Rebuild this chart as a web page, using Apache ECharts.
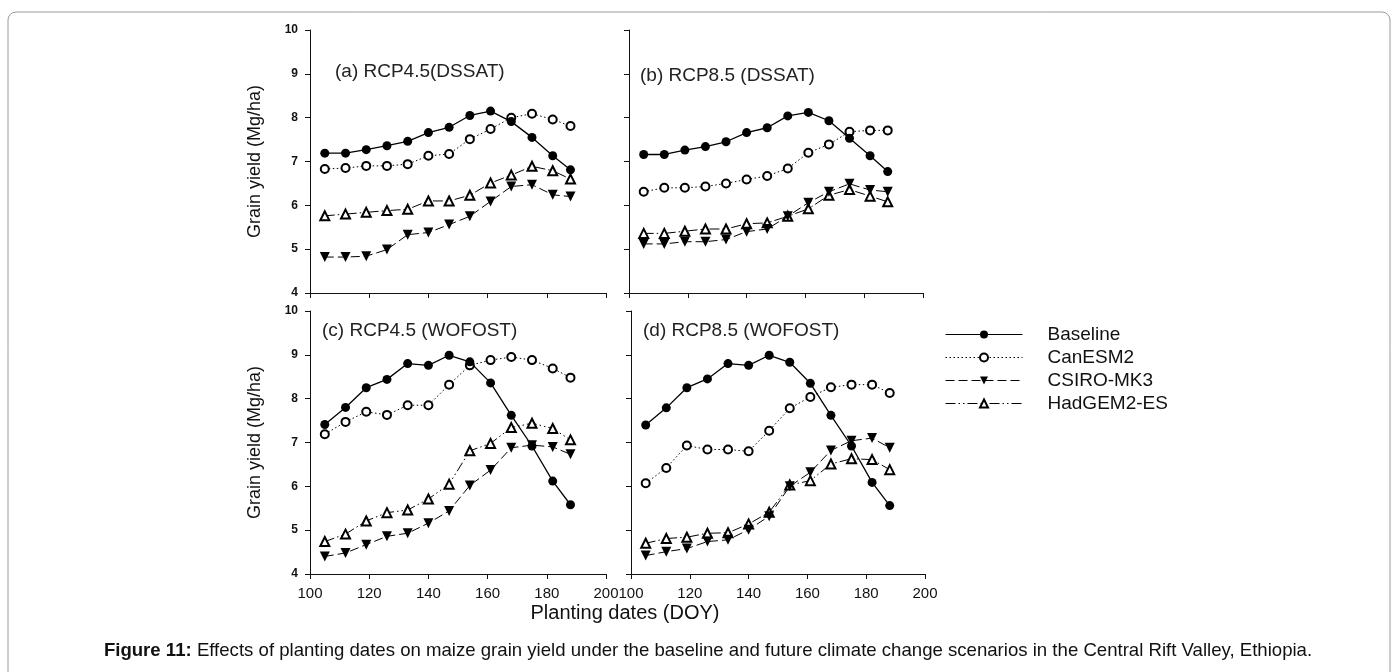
<!DOCTYPE html>
<html>
<head>
<meta charset="utf-8">
<script src="https://cdn.jsdelivr.net/npm/echarts@6/dist/echarts.min.js"></script>
<style>
  html, body { margin: 0; padding: 0; background: #fff; }
  #chart { width: 1398px; height: 672px; }
</style>
</head>
<body>
<div id="chart"></div>
<script>
// planting dates (DOY)
var doy = [105, 112, 119, 126, 133, 140, 147, 154, 161, 168, 175, 182, 188];
var seriesNames = ['Baseline', 'CanESM2', 'CSIRO-MK3', 'HadGEM2-ES'];
var panelTitles = ['(a) RCP4.5(DSSAT)', '(b) RCP8.5 (DSSAT)', '(c) RCP4.5 (WOFOST)', '(d) RCP8.5 (WOFOST)'];
var xTicks = [100, 120, 140, 160, 180, 200];
var yTicks = [4, 5, 6, 7, 8, 9, 10];

// (a) RCP4.5 DSSAT
var aBaseline = [7.19, 7.19, 7.27, 7.36, 7.46, 7.66, 7.78, 8.05, 8.15, 7.91, 7.55, 7.13, 6.81];
var aCanESM2  = [6.83, 6.85, 6.90, 6.90, 6.94, 7.13, 7.17, 7.51, 7.74, 8.00, 8.09, 7.96, 7.81];
var aCSIRO    = [4.82, 4.82, 4.84, 4.99, 5.33, 5.38, 5.56, 5.75, 6.09, 6.43, 6.47, 6.24, 6.20];
var aHadGEM   = [5.76, 5.80, 5.84, 5.88, 5.91, 6.10, 6.10, 6.23, 6.51, 6.69, 6.89, 6.79, 6.60];
// (b) RCP8.5 DSSAT
var bBaseline = [7.16, 7.16, 7.26, 7.34, 7.45, 7.66, 7.77, 8.04, 8.12, 7.93, 7.53, 7.13, 6.77];
var bCanESM2  = [6.31, 6.40, 6.40, 6.43, 6.50, 6.59, 6.67, 6.84, 7.20, 7.39, 7.68, 7.71, 7.71];
var bCSIRO    = [5.12, 5.12, 5.17, 5.17, 5.22, 5.40, 5.46, 5.75, 6.06, 6.31, 6.49, 6.35, 6.31];
var bHadGEM   = [5.36, 5.36, 5.41, 5.46, 5.46, 5.58, 5.60, 5.75, 5.92, 6.23, 6.36, 6.21, 6.08];
// (c) RCP4.5 WOFOST
var cBaseline = [7.41, 7.80, 8.25, 8.44, 8.80, 8.76, 8.99, 8.84, 8.36, 7.62, 6.92, 6.12, 5.58];
var cCanESM2  = [7.19, 7.47, 7.70, 7.63, 7.85, 7.85, 8.32, 8.76, 8.88, 8.95, 8.88, 8.69, 8.48];
var cCSIRO    = [4.40, 4.48, 4.67, 4.86, 4.93, 5.16, 5.44, 6.02, 6.37, 6.88, 6.94, 6.90, 6.73];
var cHadGEM   = [4.74, 4.91, 5.21, 5.40, 5.46, 5.71, 6.05, 6.81, 6.98, 7.34, 7.44, 7.32, 7.06];
// (d) RCP8.5 WOFOST
var dBaseline = [7.40, 7.79, 8.25, 8.45, 8.80, 8.76, 8.99, 8.83, 8.35, 7.62, 6.92, 6.09, 5.56];
var dCanESM2  = [6.07, 6.42, 6.93, 6.84, 6.84, 6.80, 7.27, 7.78, 8.04, 8.26, 8.32, 8.32, 8.13];
var dCSIRO    = [4.42, 4.51, 4.58, 4.74, 4.78, 5.01, 5.32, 6.00, 6.32, 6.82, 7.04, 7.10, 6.88];
var dHadGEM   = [4.70, 4.81, 4.84, 4.93, 4.94, 5.14, 5.41, 6.03, 6.13, 6.51, 6.63, 6.61, 6.38];

var panels = [
    [aBaseline, aCanESM2, aCSIRO, aHadGEM],
    [bBaseline, bCanESM2, bCSIRO, bHadGEM],
    [cBaseline, cCanESM2, cCSIRO, cHadGEM],
    [dBaseline, dCanESM2, dCSIRO, dHadGEM]
];

var font = 'Liberation Sans, Arial, sans-serif';
var ink = '#111';

var grids = [
    {left: 310, top: 30, width: 296, height: 263},
    {left: 629, top: 30, width: 294, height: 263},
    {left: 310, top: 311, width: 296, height: 263},
    {left: 631, top: 311, width: 294, height: 263}
];
var titlePos = [[335, 62], [640, 66], [322, 321], [643, 321]];

// line style per series
var styles = [
    {symbol: 'circle', size: 9, rotate: 0, width: 1.3, type: 'solid'},
    {symbol: 'emptyCircle', size: 8, rotate: 0, width: 1, type: [1.5, 2.5]},
    {symbol: 'triangle', size: 10, rotate: 180, width: 1, type: [9, 4]},
    {symbol: 'emptyTriangle', size: 9, rotate: 0, width: 1, type: [10, 3, 1.5, 3, 1.5, 3]}
];

var xAxes = [], yAxes = [], series = [], titles = [];
for (var p = 0; p < 4; p++) {
    var bottom = p >= 2, left = (p % 2 === 0);
    xAxes.push({
        type: 'value', gridIndex: p, min: 100, max: 200, interval: 20,
        axisLine: {lineStyle: {color: ink, width: 1}},
        axisTick: {length: 5, lineStyle: {color: ink}},
        splitLine: {show: false},
        axisLabel: {show: bottom, color: ink, fontSize: 15, fontFamily: font, margin: 12}
    });
    yAxes.push({
        type: 'value', gridIndex: p, min: 4, max: 10, interval: 1,
        axisLine: {show: true, lineStyle: {color: ink, width: 1}},
        axisTick: {show: true, length: 5, lineStyle: {color: ink}},
        splitLine: {show: false},
        axisLabel: {show: left, color: ink, fontSize: 12, fontWeight: 'bold', fontFamily: font, margin: 12},
        name: left ? 'Grain yield (Mg/ha)' : '',
        nameLocation: 'middle', nameGap: 46,
        nameTextStyle: {color: ink, fontSize: 18, fontFamily: font}
    });
    titles.push({
        text: panelTitles[p], left: titlePos[p][0], top: titlePos[p][1], padding: 0,
        textStyle: {color: '#222', fontSize: 19, fontWeight: 'normal', fontFamily: font}
    });
    for (var s = 0; s < 4; s++) {
        var vals = panels[p][s];
        var pts = [];
        for (var i = 0; i < doy.length; i++) pts.push([doy[i], vals[i]]);
        var st = styles[s];
        series.push({
            name: seriesNames[s], type: 'line', xAxisIndex: p, yAxisIndex: p,
            data: pts, symbol: st.symbol, symbolSize: st.size, symbolRotate: st.rotate,
            showAllSymbol: true, animation: false, z: 4 - s,
            lineStyle: {color: '#000', width: st.width, type: st.type},
            itemStyle: {color: '#000', borderWidth: 1}
        });
    }
}

var myChart = echarts.init(document.getElementById('chart'));
var option = {
    backgroundColor: '#fff',
    animation: false,
    title: titles,
    grid: grids,
    xAxis: xAxes,
    yAxis: yAxes,
    legend: {
        orient: 'vertical', left: 945, top: 325, padding: 0,
        itemWidth: 77, itemHeight: 10, itemGap: 4,
        data: seriesNames,
        textStyle: {color: ink, fontSize: 19, fontFamily: font, lineHeight: 19, padding: [0, 0, 0, 20]},
        lineStyle: {width: 1}
    },
    graphic: [
        {
            type: 'rect', shape: {x: 8, y: 12, width: 1382, height: 720, r: 8},
            style: {fill: 'none', stroke: '#9a9a9a', lineWidth: 1}, silent: true
        },
        {
            type: 'text', x: 625, y: 613,
            style: {text: 'Planting dates (DOY)', fill: ink, fontSize: 20, fontFamily: font,
                    align: 'center', verticalAlign: 'middle'}
        },
        {
            type: 'text', x: 708, y: 651,
            style: {
                text: '{b|Figure 11:} Effects of planting dates on maize grain yield under the baseline and future climate change scenarios in the Central Rift Valley, Ethiopia.',
                fill: ink, fontSize: 18.6, fontFamily: font, align: 'center', verticalAlign: 'middle',
                rich: {b: {fontWeight: 'bold', fontSize: 18.6, fontFamily: font, fill: ink}}
            }
        }
    ],
    series: series
};
myChart.setOption(option);
window.addEventListener("resize", function () {
    myChart.resize();
});
</script>
</body>
</html>
